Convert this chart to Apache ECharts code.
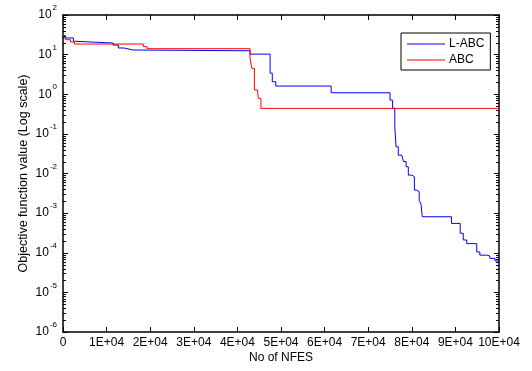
<!DOCTYPE html>
<html>
<head>
<meta charset="utf-8">
<script src="https://cdn.jsdelivr.net/npm/echarts@6/dist/echarts.min.js"></script>
<style>
  html, body { margin: 0; padding: 0; background: #fff; }
  #chart { width: 532px; height: 371px; }
</style>
</head>
<body>
<div id="chart"></div>
<script>
// Convergence history: best objective value vs. number of function evaluations
const lAbcNfes = [0, 2400, 2900, 11500, 12700, 14000, 16000, 42900, 47500, 48000, 48800, 61500,
  75000, 75600, 76100, 76400, 76900, 77700, 78100, 78700, 79200, 80000, 80600, 81100, 81700,
  82100, 82400, 89100, 91100, 91800, 92600, 94900, 95600, 97200, 97900, 99100, 100000];
const lAbcValues = [26.3, 21.7, 19.6, 17.4, 14.7, 13.1, 12.5, 10.3, 3.4, 2.07, 1.61, 1.09,
  0.71, 0.44, 0.15, 0.047, 0.029, 0.026, 0.020, 0.0148, 0.0091, 0.0083, 0.0038, 0.0035, 0.0021,
  0.0017, 0.00081, 0.00055, 0.00031, 0.00021, 0.00017, 0.000105, 0.000087, 0.000083, 0.000072,
  0.000062, 0.000059];

const abcNfes = [0, 600, 1700, 2600, 18400, 19300, 42900, 43300, 43900, 44600, 44800, 45400, 100000];
const abcValues = [30.7, 23.8, 20.8, 18.5, 15.9, 14.1, 8.1, 4.5, 1.28, 1.15, 0.79, 0.44, 0.44];

const seriesNames = ['L-ABC', 'ABC'];
const seriesColors = ['#0000ff', '#ff0000'];
const yDecades = [-6, -5, -4, -3, -2, -1, 0, 1, 2];

const X_MIN = 0, X_MAX = 100000;
const Y_MIN = 1e-6, Y_MAX = 1e2;

function zip(xs, ys) { return xs.map((x, i) => [x, ys[i]]); }

// log-style minor tick positions (2..9 within each decade)
const minorTicks = [];
yDecades.slice(0, -1).forEach(e => {
  for (let k = 2; k <= 9; k++) minorTicks.push(k * Math.pow(10, e));
});

const FONT = 'Liberation Sans';

function xLabel(v) {
  if (v === 0) return '0';
  return (v / 10000) + 'E+04';
}
function yLabel(v) {
  const e = Math.round(Math.log10(v));
  return '{b|10}{s|' + e + '}';
}

const chart = echarts.init(document.getElementById('chart'), null, { renderer: 'canvas' });

const axisLine = { show: true, onZero: false, lineStyle: { color: '#000', width: 1.5 } };
const majorTick = { show: true, inside: true, length: 5, lineStyle: { color: '#000', width: 1 } };

chart.setOption({
  animation: false,
  backgroundColor: '#fff',
  textStyle: { fontFamily: FONT },
  grid: { left: 63, right: 33, top: 15, bottom: 39 },
  legend: {
    data: seriesNames,
    orient: 'vertical',
    left: 401,
    top: 33,
    icon: 'rect',
    backgroundColor: '#fff',
    borderColor: '#000',
    borderWidth: 1,
    borderRadius: 0,
    padding: [5, 6, 4, 6],
    itemWidth: 38,
    itemHeight: 1,
    itemGap: 4,
    textStyle: { fontFamily: FONT, fontSize: 12, color: '#000', padding: [0, 0, 0, -1] }
  },
  xAxis: [
    {
      type: 'value', min: X_MIN, max: X_MAX, interval: 10000,
      name: 'No of NFES', nameLocation: 'middle', nameGap: 20,
      nameMoveOverlap: false,
      nameTextStyle: { fontFamily: FONT, fontSize: 12, color: '#000' },
      axisLine: axisLine,
      axisTick: majorTick,
      axisLabel: { formatter: xLabel, fontFamily: FONT, fontSize: 12, color: '#000', margin: 5 },
      splitLine: { show: false }
    },
    {
      type: 'value', min: X_MIN, max: X_MAX, interval: 10000, position: 'top',
      axisLine: axisLine,
      axisTick: majorTick,
      axisLabel: { show: false },
      splitLine: { show: false }
    }
  ],
  yAxis: [
    {
      type: 'log', logBase: 10, min: Y_MIN, max: Y_MAX,
      name: 'Objective function value (Log scale)', nameLocation: 'middle', nameGap: 33,
      nameMoveOverlap: false,
      nameTextStyle: { fontFamily: FONT, fontSize: 12.5, color: '#000' },
      axisLine: axisLine,
      axisTick: majorTick,
      axisLabel: {
        formatter: yLabel, margin: 6, color: '#000',
        rich: {
          b: { fontFamily: FONT, fontSize: 12, lineHeight: 12, color: '#000' },
          s: { fontFamily: FONT, fontSize: 8, lineHeight: 8, padding: [0, 0, 14, 1], color: '#000' }
        }
      },
      splitLine: { show: false }
    },
    {
      type: 'log', logBase: 10, min: Y_MIN, max: Y_MAX, position: 'right',
      axisLine: axisLine,
      axisTick: majorTick,
      axisLabel: { show: false },
      splitLine: { show: false }
    }
  ],
  series: [
    {
      name: seriesNames[0], type: 'line', step: 'end',
      data: zip(lAbcNfes, lAbcValues),
      showSymbol: false, symbol: 'none',
      lineStyle: { color: seriesColors[0], width: 1 },
      itemStyle: { color: seriesColors[0] },
      z: 3
    },
    {
      name: seriesNames[1], type: 'line', step: 'end',
      data: zip(abcNfes, abcValues),
      showSymbol: false, symbol: 'none',
      lineStyle: { color: seriesColors[1], width: 1 },
      itemStyle: { color: seriesColors[1] },
      z: 4
    }
  ]
});

// minor ticks on the left and right frame edges, placed through the log axis scale
const xLeft = chart.convertToPixel({ xAxisIndex: 0 }, X_MIN);
const xRight = chart.convertToPixel({ xAxisIndex: 0 }, X_MAX);
const minorElements = [];
minorTicks.forEach(v => {
  const y = Math.round(chart.convertToPixel({ yAxisIndex: 0 }, v)) + 0.5;
  minorElements.push({ type: 'line', silent: true, z: 10,
    shape: { x1: xLeft, y1: y, x2: xLeft + 3, y2: y }, style: { stroke: '#000', lineWidth: 1 } });
  minorElements.push({ type: 'line', silent: true, z: 10,
    shape: { x1: xRight, y1: y, x2: xRight - 3, y2: y }, style: { stroke: '#000', lineWidth: 1 } });
});
chart.setOption({ graphic: { elements: minorElements } });
</script>
</body>
</html>
